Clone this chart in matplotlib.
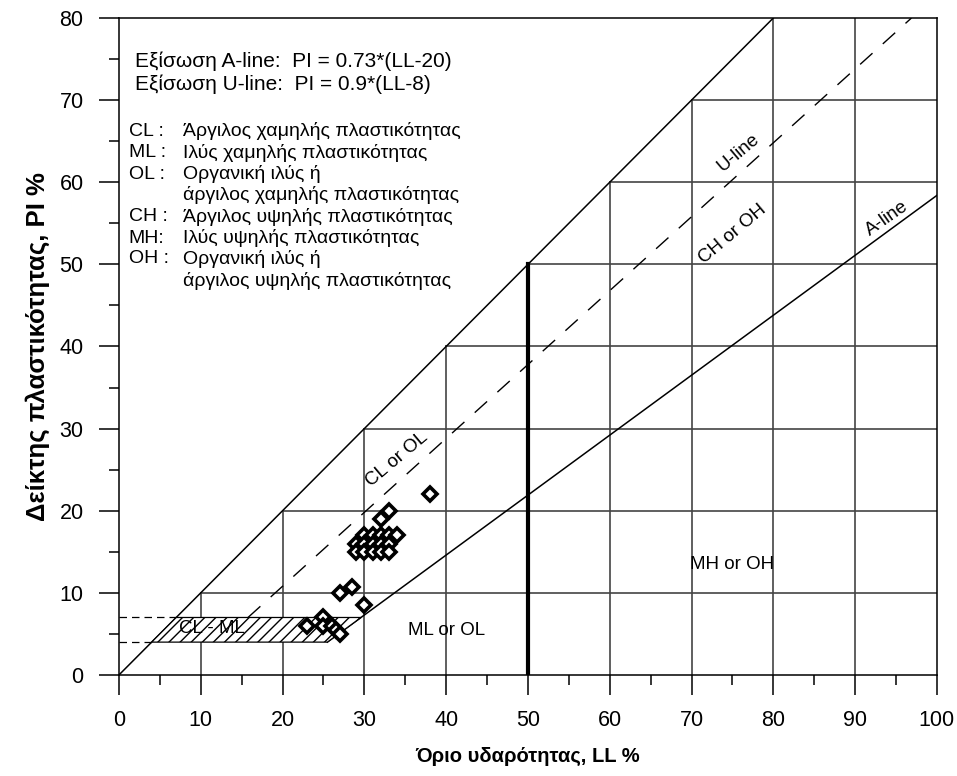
import numpy as np
import matplotlib
matplotlib.use('Agg')
import matplotlib.pyplot as plt
from matplotlib.patches import Polygon

plt.rcParams['font.family'] = ['Liberation Sans', 'DejaVu Sans']

# test results (liquid limit, plasticity index)
ll = [38, 33, 32,
      30, 31, 32, 33, 34,
      29, 30, 31, 32, 33,
      29, 30, 31, 32, 33,
      28.5, 27, 30,
      23, 25, 25, 26, 26.5, 27]
pi = [22, 20, 19,
      17, 17, 17, 17, 17,
      16, 16, 16, 16, 16,
      15, 15, 15, 15, 15,
      10.7, 10, 8.5,
      6, 7, 6, 6, 5.5, 5]

# chart definition
a_slope, a_off = 0.73, 20
u_slope, u_off = 0.9, 8
clml_low, clml_high = 4, 7
grid_vals = [10, 20, 30, 40, 50, 60, 70, 80, 90]
ll_max, pi_max = 100, 80

eq_lines = ['Εξίσωση A-line:  PI = 0.73*(LL-20)',
            'Εξίσωση U-line:  PI = 0.9*(LL-8)']
codes = ['CL :', 'ML :', 'OL :', '', 'CH :', 'MH:', 'OH :', '']
descr = ['Άργιλος χαμηλής πλαστικότητας',
         'Ιλύς χαμηλής πλαστικότητας',
         'Οργανική ιλύς ή',
         'άργιλος χαμηλής πλαστικότητας',
         'Άργιλος υψηλής πλαστικότητας',
         'Ιλύς υψηλής πλαστικότητας',
         'Οργανική ιλύς ή',
         'άργιλος υψηλής πλαστικότητας']

fig = plt.figure(figsize=(9.57, 7.76), dpi=100)
ax = fig.add_axes([0.1243, 0.1302, 0.8547, 0.8466])
ax.set_xlim(0, ll_max)
ax.set_ylim(0, pi_max)

# stepped grid below the PI = LL line
gcol = '#444444'
for g in grid_vals:
    if g == 50:
        ax.plot([g, g], [0, g], color='black', lw=3, zorder=2)
    else:
        ax.plot([g, g], [0, min(g, pi_max)], color=gcol, lw=1.2, zorder=1)
    if g < pi_max:
        ax.plot([g, ll_max], [g, g], color=gcol, lw=1.2, zorder=1)

# PI = LL boundary
ax.plot([0, pi_max], [0, pi_max], color='black', lw=1.1, zorder=2)

# A-line
x_a = np.array([a_off + clml_low / a_slope, ll_max])
ax.plot(x_a, a_slope * (x_a - a_off), color='black', lw=1.1, zorder=2)

# U-line
x_u = np.array([u_off + clml_high / u_slope, u_off + pi_max / u_slope])
ax.plot(x_u, u_slope * (x_u - u_off), color='black', lw=1.0,
        ls=(0, (12, 10)), zorder=2)

# CL-ML zone
zone = Polygon([(clml_low, clml_low), (a_off + clml_low / a_slope, clml_low),
                (a_off + clml_high / a_slope, clml_high), (clml_high, clml_high)],
               closed=True, facecolor='white', edgecolor='black', lw=0.9,
               hatch='///', zorder=2)
ax.add_patch(zone)
ax.plot([0, clml_low], [clml_low, clml_low], color='black', lw=0.9, ls=(0, (6, 4)), zorder=2)
ax.plot([0, clml_high], [clml_high, clml_high], color='black', lw=0.9, ls=(0, (6, 4)), zorder=2)

# data
ax.plot(ll, pi, ls='none', marker='D', markersize=7, markerfacecolor='white',
        markeredgecolor='black', markeredgewidth=2.6, zorder=5)

# labels in the chart
fs_lab = 13.5
ax.text(11.4, 5.6, 'CL - ML', fontsize=fs_lab, ha='center', va='center', zorder=3)
ax.text(40.1, 5.4, 'ML or OL', fontsize=fs_lab, ha='center', va='center')
ax.text(74.9, 13.4, 'MH or OH', fontsize=fs_lab, ha='center', va='center')
ax.text(34.0, 26.2, 'CL or OL', fontsize=fs_lab, ha='center', va='center', rotation=40)
ax.text(75.0, 53.7, 'CH or OH', fontsize=fs_lab, ha='center', va='center', rotation=40)
ax.text(75.7, 63.6, 'U-line', fontsize=fs_lab, ha='center', va='center', rotation=40)
ax.text(93.9, 55.6, 'A-line', fontsize=fs_lab, ha='center', va='center', rotation=35)

ax.text(1.95, 74.7, eq_lines[0], fontsize=15, va='center')
ax.text(1.95, 71.9, eq_lines[1], fontsize=15, va='center')
legend_y = [66.2, 63.6, 61.0, 58.5, 55.8, 53.2, 50.7, 48.0]
for yv, c, d in zip(legend_y, codes, descr):
    ax.text(1.2, yv, c, fontsize=14, va='center')
    ax.text(7.8, yv, d, fontsize=14, va='center')

# axes
ax.set_xticks(np.arange(0, 101, 10))
ax.set_xticks(np.arange(5, 100, 10), minor=True)
ax.set_yticks(np.arange(0, 81, 10))
ax.set_yticks(np.arange(5, 80, 10), minor=True)
ax.tick_params(which='major', direction='out', length=14.5, width=1.1,
               labelsize=15.5, pad=11)
ax.tick_params(which='minor', direction='out', length=7, width=1.1)
for s in ax.spines.values():
    s.set_linewidth(1.1)

ax.set_xlabel('Όριο υδαρότητας, LL %', fontsize=14.5, fontweight='bold', labelpad=11)
ax.set_ylabel('Δείκτης πλαστικότητας, PI %', fontsize=18.5, fontweight='bold', labelpad=7)

fig.savefig('out.png', dpi=100)
